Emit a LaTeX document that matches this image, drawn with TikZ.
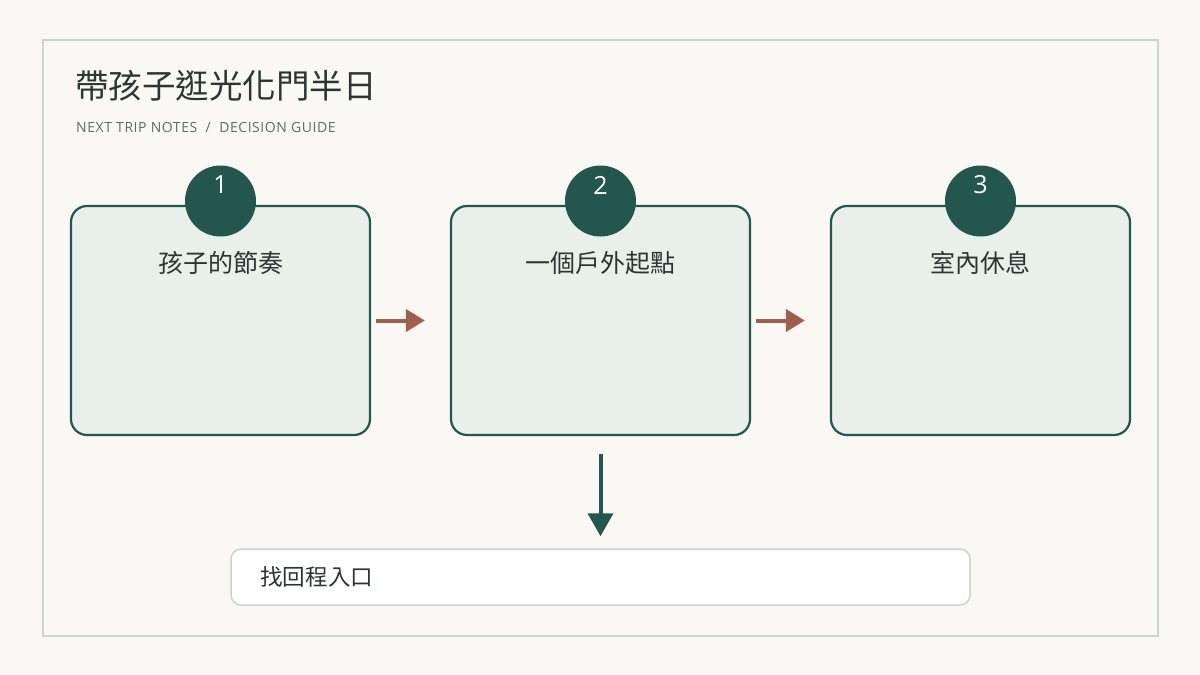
\documentclass[tikz,border=0pt]{standalone}
\usepackage{fontspec}
\setmainfont{Noto Sans CJK TC}
\newfontfamily\latinfont{Open Sans}
\newfontfamily\latinspaced{Open Sans}[LetterSpace=4]
\usetikzlibrary{arrows.meta}
\definecolor{bgc}{HTML}{F9F8F4}
\definecolor{framec}{HTML}{CCD5CC}
\definecolor{boxfill}{HTML}{E9F0EB}
\definecolor{darkg}{HTML}{23564D}
\definecolor{rust}{HTML}{A05F4E}
\definecolor{txt}{HTML}{2B3533}
\definecolor{subt}{HTML}{5F6B66}
\definecolor{lowline}{HTML}{CCD3CC}
\tikzset{
  stepbox/.style={draw=darkg, line width=2.2pt, fill=boxfill, rounded corners=16pt,
    minimum width=299pt, minimum height=229pt, inner sep=0pt},
  badge/.style={circle, fill=darkg, minimum size=71pt, inner sep=0pt},
  badgenum/.style={text=white, font=\latinfont\fontsize{25}{30}\selectfont, inner sep=0pt},
  boxlabel/.style={text=txt, font=\fontsize{25}{30}\selectfont, inner sep=0pt},
  flowarrow/.style={draw=rust, line width=4pt, -{Triangle[length=19pt,width=22pt]}},
  downarrow/.style={draw=darkg, line width=4pt, -{Triangle[length=23pt,width=25pt]}},
  endbox/.style={draw=lowline, line width=1.5pt, fill=white, rounded corners=10pt,
    minimum width=739pt, minimum height=56pt, inner sep=0pt},
}
\begin{document}
\begin{tikzpicture}[x=1pt,y=-1pt]
\fill[bgc] (0,0) rectangle (1200,675);
\useasboundingbox (0,0) rectangle (1200,675);
\draw[framec, line width=2.5pt] (43,40) rectangle (1158,636);

\node[anchor=west, text=txt, inner sep=0pt, font=\fontsize{33.5}{40}\selectfont] (title) at (75,86) {帶孩子逛光化門半日};
\node[anchor=west, text=subt, inner sep=0pt, font=\latinspaced\fontsize{14}{16}\selectfont] (sub) at (76,127.5) {NEXT TRIP NOTES \ / \ DECISION GUIDE};

\node[stepbox] (b1) at (220.5,320.5) {};
\node[stepbox] (b2) at (600.5,320.5) {};
\node[stepbox] (b3) at (980.5,320.5) {};

\node[badge] (c1) at (220.5,201) {};
\node[badge] (c2) at (600.5,201) {};
\node[badge] (c3) at (980.5,201) {};
\node[badgenum] (n1) at (220.5,185) {1};
\node[badgenum] (n2) at (600.5,185) {2};
\node[badgenum] (n3) at (980.5,185) {3};

\node[boxlabel] (l1) at (220.5,263) {孩子的節奏};
\node[boxlabel] (l2) at (600.5,263) {一個戶外起點};
\node[boxlabel] (l3) at (980.5,263) {室內休息};

\draw[flowarrow, shorten <=5pt, shorten >=25pt] (b1.east) -- (b2.west);
\draw[flowarrow, shorten <=5pt, shorten >=25pt] (b2.east) -- (b3.west);

\node[endbox] (e) at (600.5,577) {};
\node[anchor=west, text=txt, inner sep=0pt, font=\fontsize{22.6}{27}\selectfont] (el) at (260,577) {找回程入口};

\draw[downarrow, shorten <=18pt, shorten >=12pt] (b2.south) -- (e.north);
\end{tikzpicture}
\end{document}
